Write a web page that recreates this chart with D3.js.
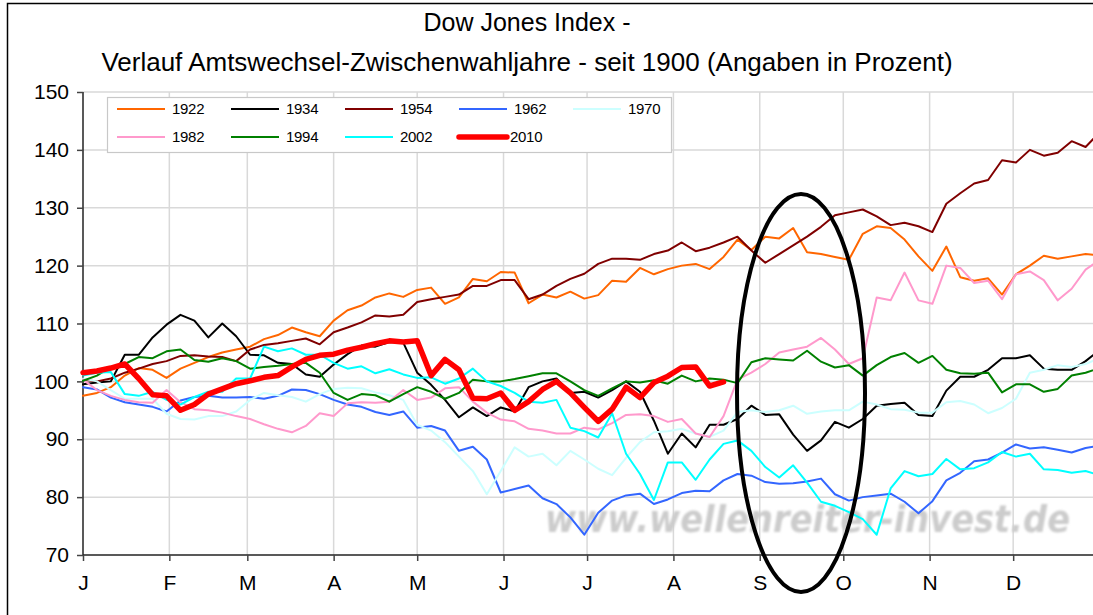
<!DOCTYPE html>
<html><head><meta charset="utf-8">
<script src="https://cdn.jsdelivr.net/npm/d3@7"></script>
<style>
body{margin:0;background:#fff}
svg{display:block;font-family:"Liberation Sans",Arial,sans-serif}
</style>
</head><body>
<svg id="chart" width="1093" height="615"></svg>
<script>
// ---------- data ----------
const titleLines = ["Dow Jones Index -", "Verlauf Amtswechsel-Zwischenwahljahre - seit 1900 (Angaben in Prozent)"];
const monthLabels = ["J","F","M","A","M","J","J","A","S","O","N","D"];
const monthStartDays = [0,31,59,90,120,151,181,212,243,273,304,334];
const yTicks = [70,80,90,100,110,120,130,140,150];
// day of year of each reading
const sampleDays = [0,5,10,15,20,25,30,35,40,45,50,55,60,65,70,75,80,85,90,95,100,105,110,115,120,125,130,135,140,145,150,155,160,165,170,175,180,185,190,195,200,205,210,215,220,225,230,235,240,245,250,255,260,265,270,275,280,285,290,295,300,305,310,315,320,325,330,335,340,345,350,355,360,365];

const v1922 = [97.5,98,99,101,102.3,102,100.6,102.2,103.2,104.2,105,105.5,106,107.3,108,109.3,108.5,107.8,110.5,112.3,113.1,114.5,115.2,114.6,115.8,116.2,113.4,114.5,117.7,117.3,118.9,118.8,113.5,115,114.5,115.5,114.3,114.9,117.4,117.2,119.6,118.5,119.4,120,120.3,119.4,121.5,124.5,122.7,125,124.7,126.5,122.3,122,121.5,121,125.5,126.8,126.5,124.5,121.6,119.1,123.3,118,117.4,117.8,115,118.5,120,121.7,121.2,121.6,122,121.8];
const v1934 = [99.5,99.8,100,104.6,104.6,107.6,109.8,111.5,110.5,107.6,110,107.8,104.6,104.5,103.2,103,101.2,100.8,102.9,104.7,106.2,106,106.8,106.7,101.5,99.4,96.8,93.8,95.5,94,95.5,94.8,99,100,100.5,98,98.2,97.2,98.5,100,98.2,93.2,87.5,91,88.6,92.5,92.5,93.5,95.8,94.2,94.3,90.8,88,89.8,93,92,93.5,95.8,96.1,96.3,94.2,94,98.4,100.8,100.8,102,104,104,104.5,102.2,102,102,103.5,105.4];
const v1954 = [100.3,100,100.5,101.5,102.2,103,103.5,104.4,104.5,104.3,104.2,103.5,105.5,106.3,106.6,107,107.4,106.4,108.5,109.3,110.2,111.4,111.2,111.5,113.7,114.2,114.6,115,116.5,116.5,117.5,117.5,114.2,115,116.5,117.7,118.6,120.3,121.2,121.2,121,122,122.6,124,122.5,123.1,124,125,122.6,120.5,122,123.5,125,126.7,128.7,129.2,129.7,128.5,127,127.4,126.8,125.8,130.7,132.5,134.2,134.8,138.2,137.8,140,139,139.5,141.5,140.5,143];
const v1962 = [99,98.6,97.2,96.4,96,95.6,94.8,96.7,97.3,97.5,97.2,97.2,97.3,97,97.5,98.6,98.5,97.8,96.8,96,95.6,94.7,94.2,94.8,92,92.3,91.5,88,88.7,86.5,80.8,81.4,82,79.8,78.8,76.5,73.5,77.3,79.4,80.3,80.6,78.8,79.6,80.7,81.1,81,82.9,84,83.7,82.6,82.3,82.4,82.7,83.2,80.5,79.4,80,80.3,80.6,79.2,77.2,79.3,82.9,84.2,86.2,86.5,87.7,89.1,88.4,88.6,88.2,87.7,88.5,88.9];
const v1970 = [100.5,100,98.5,97,97,97,94.4,93.5,93.4,94,94,94.8,96.8,98,97.6,97.3,96.5,97.8,98.7,98.9,98.8,98.1,97.6,96.8,92.5,91.5,89.5,87,84.5,80.5,84.5,88.6,87,87.5,85.5,88,86.5,84.9,83.8,86.8,89.5,91.2,91.4,91.8,91,90.4,91.5,94.7,95,94.7,95,95.8,94.4,94.8,95,95,96.5,96,95.2,95.1,94.6,94.6,96.4,96.6,96,94.5,95.4,97,101.5,102,102.8,102.5,103,104];
const v1982 = [100.3,98.5,97.5,96.8,96.4,96.3,98.5,96.4,95.2,95,94.6,94,93.5,92.6,91.8,91.2,92.3,94.5,94,96.2,96.4,96.3,96.5,98.5,96.8,97.2,98.8,99,96.5,94.6,93.4,93.1,91.8,91.5,91,91,92,91.7,92.8,94.2,94.3,94,93,93.5,91,90.4,94,100.3,101.5,103,105,105.5,106,107.5,105.5,103,104,114.5,114,118.8,114,113.4,120,119.6,117,117.4,114.2,118.5,119,117.5,114,116,119.3,121];
const v1994 = [100.1,101,102.5,103,104.2,104,105.2,105.5,103.7,103.4,104,103.5,102.2,102.5,102.7,103,103.2,101.5,98,96.8,97.8,97.6,96.5,97.8,99,98.2,97,98,100.3,100,100,100.4,100.9,101.4,101.4,100,98.5,97.5,98.8,100,99.8,100.2,99.6,101,100,100.5,100.3,99.7,103.3,104,103.8,103.6,105.3,103.4,102.4,102.8,101,102.8,104.2,104.9,103.2,104.4,102,101.4,101.3,101.5,98.1,99.5,99.5,98.2,98.7,101,101.5,102.3];
const v2002 = [101,101.5,101.6,97.8,97.5,98.2,96.8,96,97.3,98.2,98.2,100.5,100.5,106,105.2,105.7,104.6,104.6,103.2,102.2,102.6,101.4,102.1,101.2,100.6,100.7,99.6,100.5,102.2,100,99.2,98,96.5,96.3,96.8,92,91.4,90.3,94.5,87.5,84,79.5,86,86,83,86.5,89.2,89.8,88,85.2,83.4,85.5,82.5,79.2,78.5,77.4,76.2,73.5,81.5,84.5,83.6,84,86.6,84.8,85,86,87.8,87,87.5,84.8,84.7,84.2,84.5,83.8];
const v2010 = [101.5,101.8,102.3,103,100.5,97.7,97.5,95,96,97.8,98.7,99.6,100.1,100.7,101,102.5,103.8,104.5,104.7,105.4,105.9,106.5,107,106.8,107,101,103.8,102,97.1,97,98,95,96.5,98.6,100,98,95.5,93.1,95.2,99,97.2,99.8,100.9,102.4,102.5,99.2,99.9];

const seriesNames  = ["1922","1934","1954","1962","1970","1982","1994","2002","2010"];
const seriesValues = [v1922,v1934,v1954,v1962,v1970,v1982,v1994,v2002,v2010];
const seriesColors = ["#FF6600","#000000","#800000","#3366FF","#CCFFFF","#FF99CC","#008000","#00FFFF","#FF0000"];
const seriesWidths = [2,2,2,2,2,2,2,2,5.5];
const watermark = "www.wellenreiter-invest.de";

// ---------- layout ----------
const svg = d3.select("#chart");
const plot = {left:83, top:92, bottom:555, right:1093};
const x = d3.scaleLinear().domain([0,365]).range([83,1099.5]);
const y = d3.scaleLinear().domain([70,150]).range([555,92]);

// outer frame
svg.append("rect").attr("x",7.5).attr("y",3.5).attr("width",1100).attr("height",640)
  .attr("fill","#fff").attr("stroke","#000").attr("stroke-width",1.5);

// title
svg.append("g").selectAll("text").data(titleLines).join("text")
  .attr("x",527).attr("y",(d,i)=>31+i*40).attr("text-anchor","middle")
  .attr("font-size",(d,i)=>i===0?25:26).attr("fill","#000").text(d=>d);

// gridlines
const grid = svg.append("g").attr("stroke","#d9d9d9").attr("stroke-width",1.5);
grid.selectAll("line.h").data(yTicks.filter(v=>v>70)).join("line")
  .attr("x1",plot.left).attr("x2",plot.right).attr("y1",d=>y(d)).attr("y2",d=>y(d));
grid.selectAll("line.v").data(monthStartDays.slice(1)).join("line")
  .attr("x1",d=>x(d)).attr("x2",d=>x(d)).attr("y1",plot.top).attr("y2",plot.bottom);

// watermark
const defs = svg.append("defs");
defs.append("filter").attr("id","blur").attr("x","-5%").attr("y","-30%").attr("width","110%").attr("height","160%")
  .append("feGaussianBlur").attr("stdDeviation",1.1);
svg.append("text").attr("x",545).attr("y",532)
  .attr("font-family","'DejaVu Sans',Verdana,sans-serif").attr("font-style","italic").attr("font-weight","bold")
  .attr("font-size",38).attr("fill","#cccccc").attr("textLength",525).attr("lengthAdjust","spacingAndGlyphs")
  .attr("filter","url(#blur)").text(watermark);

// axes
const yAxis = svg.append("g").attr("transform",`translate(${plot.left},0)`)
  .call(d3.axisLeft(y).tickValues(yTicks).tickSize(6).tickPadding(8).tickFormat(d3.format("d")));
yAxis.select(".domain").attr("stroke","#222").attr("stroke-width",1.5).attr("d",`M0,${plot.top}V${plot.bottom}`);
yAxis.selectAll(".tick line").attr("stroke","#444").attr("stroke-width",1.5);
yAxis.selectAll(".tick text").attr("font-size",21).attr("font-family","'Liberation Sans',Arial,sans-serif").attr("fill","#000");

const xAxis = svg.append("g").attr("transform",`translate(0,${plot.bottom})`)
  .call(d3.axisBottom(x).tickValues(monthStartDays).tickSize(6).tickPadding(14).tickFormat((d,i)=>monthLabels[i]));
xAxis.select(".domain").attr("stroke","#222").attr("stroke-width",1.5).attr("d",`M${plot.left},0H${plot.right}`);
xAxis.selectAll(".tick line").attr("stroke","#444").attr("stroke-width",1.5);
xAxis.selectAll(".tick text").attr("font-size",21).attr("font-family","'Liberation Sans',Arial,sans-serif").attr("fill","#000");

// series
const line = d3.line().x((d,i)=>x(sampleDays[i])).y(d=>y(d));
svg.append("g").attr("fill","none").attr("stroke-linejoin","round").attr("stroke-linecap","round")
  .selectAll("path").data(seriesValues).join("path")
  .attr("stroke",(d,i)=>seriesColors[i]).attr("stroke-width",(d,i)=>seriesWidths[i])
  .attr("d",d=>line(d));

// legend
const lg = svg.append("g");
lg.append("rect").attr("x",107.5).attr("y",97.5).attr("width",564).attr("height",55)
  .attr("fill","#fff").attr("stroke","#c8c8c8").attr("stroke-width",1.2);
const items = lg.selectAll("g.item").data(seriesNames).join("g")
  .attr("transform",(d,i)=>`translate(${117+(i%5)*114},${i<5?109:137})`);
items.append("line").attr("x1",0).attr("x2",48).attr("y1",0).attr("y2",0)
  .attr("stroke",(d,i)=>seriesColors[i]).attr("stroke-width",(d,i)=>seriesWidths[i])
  .attr("stroke-linecap",(d,i)=>i===8?"round":"butt");
items.append("text").attr("x",(d,i)=>i===8?51:55).attr("y",0).attr("dy","0.35em")
  .attr("font-size",15).attr("letter-spacing",-0.3).attr("fill","#000").text(d=>d);

// ellipse annotation
svg.append("ellipse").attr("cx",801).attr("cy",393).attr("rx",64).attr("ry",199)
  .attr("fill","none").attr("stroke","#000").attr("stroke-width",4);
</script>
</body></html>
